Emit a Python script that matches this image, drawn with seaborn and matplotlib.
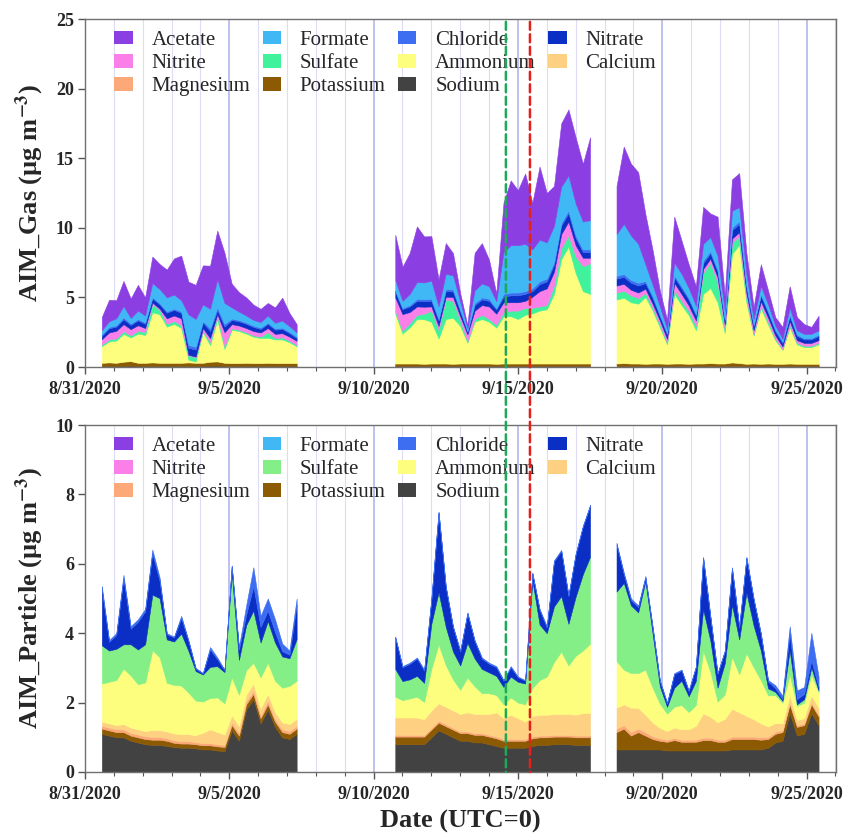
import pandas as pd
import matplotlib
matplotlib.use("Agg")
import matplotlib.pyplot as plt
import matplotlib.dates as mdates
from matplotlib.patches import Patch, ConnectionPatch
from matplotlib.ticker import FuncFormatter, MultipleLocator
import seaborn as sns

seg_starts = ["2020-08-31 14:00", "2020-09-10 18:00", "2020-09-18 10:00"]
seg_points = [28, 28, 29]

date_ticks = ["2020-08-31", "2020-09-05", "2020-09-10", "2020-09-15", "2020-09-20", "2020-09-25"]
event_times = ["2020-09-14 14:00", "2020-09-15 10:00"]
event_colors = ["#1fa857", "#e3211c"]

# ---------------- AIM gas (ug m-3) ----------------
gas_sodium = [.08, .08, .08, .08, .1, .08, .08, .08, .08, .08, .08, .08, .08, .08, .08, .1, .1, .08, .08, .08, .08, .08, .08, .08, .08, .08, .08, .08,
              .08, .08, .08, .08, .08, .08, .08, .08, .08, .08, .08, .08, .08, .08, .08, .08, .08, .08, .08, .08, .08, .08, .08, .08, .08, .08, .08, .08,
              .08, .08, .08, .08, .08, .08, .08, .08, .08, .08, .08, .08, .08, .08, .08, .08, .08, .08, .08, .08, .08, .08, .08, .08, .08, .08, .08, .08, .08]
gas_potassium = [.22, .25, .22, .3, .32, .22, .22, .25, .22, .22, .22, .22, .25, .22, .22, .28, .3, .22, .2, .2, .22, .2, .2, .22, .2, .2, .2, .2,
                 .17, .17, .17, .17, .15, .17, .17, .17, .15, .17, .17, .17, .17, .17, .15, .17, .17, .17, .17, .17, .17, .17, .17, .17, .17, .17, .17, .17,
                 .17, .2, .17, .17, .15, .17, .17, .15, .17, .17, .15, .17, .17, .2, .17, .17, .25, .2, .15, .17, .15, .17, .15, .15, .17, .15, .15, .15, .15]
gas_ammonium = [1.2, 1.5, 1.6, 2.0, 1.7, 2.1, 2.0, 3.6, 3.5, 2.6, 2.8, 2.5, 0.2, 0.1, 2.2, 1.2, 3.0, 1.0, 2.4, 2.3, 2.1, 1.9, 1.8, 1.8, 1.7, 1.7, 1.5, 1.2,
                3.6, 2.15, 2.6, 3.2, 3.2, 3.0, 1.8, 3.2, 3.3, 2.7, 1.5, 3.0, 3.2, 3.0, 2.6, 3.4, 3.4, 3.2, 3.5, 3.6, 3.8, 3.9, 5.0, 7.5, 8.4, 6.5, 5.2, 5.0,
                4.6, 4.7, 4.4, 4.3, 4.8, 3.8, 2.6, 1.4, 5.0, 4.2, 3.5, 2.4, 5.0, 5.4, 4.4, 2.2, 7.8, 8.5, 4.4, 2.0, 4.0, 2.8, 1.7, 1.0, 2.6, 1.4, 1.2, 1.2, 1.4]
gas_sulfate = [.1, .15, .15, .2, .15, .2, .2, .6, .3, .2, .2, .2, .3, .3, .1, .2, .3, .2, .1, .1, .1, .1, .1, .4, .1, .15, .1, .1,
               .2, .2, .3, .3, .4, .8, .6, 1.4, 1.2, .4, .1, .2, .3, .2, .2, .3, .4, .6, .5, .4, .3, .3, .6, .8, .8, 1.2, 1.8, 2.2,
               .5, .5, .5, .4, .3, .2, .2, .1, .3, .3, .3, .3, 1.5, 1.8, 1.4, .2, .8, .6, .3, .1, .2, .2, .1, .05, .15, .1, .1, .1, .1]
gas_nitrite = [.4, .5, .55, .5, .45, .4, .3, .1, .1, .4, .4, .5, .05, .05, .2, .3, .1, 1.0, .3, .3, .3, .3, .3, .3, .3, .3, .3, .3,
               .95, 1.2, .8, .6, .5, .3, .3, .2, .3, .3, .5, .6, .7, .9, .8, .7, .6, .6, .5, .8, 1.1, 1.2, 1.0, 1.0, 1.0, .8, .6, .4,
               .5, .5, .4, .4, .3, .3, .3, .3, .5, .5, .4, .4, .3, .3, .4, .4, .3, .3, .4, .3, .3, .3, .25, .2, .3, .2, .2, .2, .2]
gas_nitrate = [.25, .3, .3, .35, .3, .35, .3, .3, .3, .4, .4, .4, .5, .5, .4, .5, .3, .4, .3, .3, .3, .3, .25, .3, .3, .3, .25, .2,
               .4, .35, .4, .4, .4, .4, .4, .4, .4, .35, .2, .4, .4, .4, .3, .4, .5, .5, .5, .4, .5, .5, .5, .6, .6, .5, .4, .4,
               .5, .5, .5, .5, .4, .4, .3, .3, .4, .4, .4, .35, .4, .4, .4, .3, .6, .6, .4, .3, .4, .35, .3, .25, .35, .3, .25, .25, .3]
gas_chloride = [.1, .1, .1, .15, .1, .1, .1, .1, .1, .1, .1, .1, .2, .2, .1, .2, .2, .2, .1, .1, .1, .1, .1, .1, .1, .1, .1, .1,
                .1, .1, .1, .15, .15, .15, .1, .15, .15, .1, .05, .15, .15, .15, .1, .2, .2, .2, .2, .2, .2, .2, .2, .2, .2, .2, .2, .2,
                .2, .2, .2, .2, .15, .15, .1, .1, .15, .15, .15, .1, .2, .15, .15, .1, .2, .2, .15, .1, .1, .1, .1, .1, .1, .1, .1, .1, .1]
gas_formate = [.3, .4, .5, .8, .4, .6, .5, 1.0, 1.0, 1.0, 1.0, .8, 2.2, 2.0, 1.2, 1.4, 2.0, 1.5, .8, .6, .5, .4, .4, .5, .4, .5, .4, .3,
               .75, .5, .8, 1.2, 1.2, 1.3, .9, 1.1, 1.0, .6, .2, .9, 1.0, .9, .5, 3.0, 3.4, 3.4, 3.4, 2.8, 3.0, 2.6, 2.6, 2.6, 2.5, 2.3, 2.0, 2.1,
               3.0, 3.6, 3.2, 2.8, 1.2, .8, .6, .3, .9, .9, .7, .6, 1.2, 1.0, 1.0, .6, 1.2, 1.0, .8, .4, .6, .5, .3, .2, .5, .3, .3, .3, .3]
gas_acetate = [.95, 1.55, 1.3, 1.8, 1.4, 1.85, 1.3, 1.9, 1.8, 2.0, 2.6, 3.2, 2.35, 2.45, 2.8, 3.1, 3.5, 3.6, 1.7, 1.4, 1.3, 1.1, .95, .9, 1.1, 1.65, .95, .6,
               3.25, 2.45, 2.95, 4.0, 3.3, 3.2, 1.95, 2.2, 1.6, .6, .2, 2.7, 2.9, 1.9, .55, 3.55, 4.65, 3.95, 5.05, 3.35, 5.25, 3.55, 2.85, 4.55, 4.75, 4.75, 4.15, 5.95,
               3.45, 5.55, 5.15, 5.15, 3.6, 2.5, 1.15, .65, 3.3, 2.4, 1.7, 1.4, 2.65, 1.7, 2.8, 1.05, 2.25, 2.45, 1.5, .85, 1.55, 1.0, .6, .85, 1.55, .95, .7, .5, 1.05]

# ---------------- AIM particle (ug m-3) ----------------
pm_sodium = [1.1, 1.05, 1.0, 1.0, .9, .85, .8, .78, .78, .75, .72, .7, .7, .68, .65, .65, .62, .6, 1.2, .9, 1.8, 2.1, 1.4, 1.8, 1.3, 1.0, .95, 1.1,
             .8, .8, .8, .8, .8, 1.0, 1.2, 1.1, 1.0, .9, .9, .85, .85, .8, .75, .7, .7, .7, .7, .75, .78, .78, .8, .8, .8, .78, .78, .78,
             .65, .65, .65, .65, .65, .65, .65, .62, .62, .62, .62, .62, .62, .62, .62, .62, .65, .65, .65, .65, .65, .7, .85, .9, 1.7, 1.05, 1.1, 1.7, 1.35]
pm_potassium = [.15, .15, .15, .15, .15, .15, .15, .15, .15, .15, .12, .12, .12, .12, .12, .12, .12, .12, .15, .15, .15, .15, .15, .15, .15, .15, .15, .15,
                .22, .22, .22, .22, .22, .22, .22, .22, .22, .22, .22, .22, .22, .22, .22, .2, .2, .2, .2, .22, .22, .22, .22, .22, .22, .22, .22, .22,
                .5, .6, .4, .5, .4, .3, .25, .25, .3, .25, .25, .25, .3, .3, .25, .25, .3, .3, .3, .3, .28, .25, .25, .25, .25, .25, .25, .25, .25]
pm_magnesium = [.08, .08, .08, .08, .08, .08, .08, .08, .08, .07, .07, .07, .07, .06, .06, .06, .06, .06, .08, .08, .08, .1, .08, .1, .08, .08, .08, .08,
                .05, .05, .05, .05, .05, .05, .06, .06, .05, .05, .05, .05, .05, .05, .05, .05, .05, .05, .05, .05, .05, .05, .05, .05, .05, .05, .05, .05,
                .1, .1, .1, .1, .1, .08, .07, .06, .06, .06, .06, .06, .07, .07, .06, .06, .07, .07, .07, .07, .07, .06, .06, .05, .06, .05, .05, .06, .05]
pm_calcium = [.12, .12, .12, .15, .15, .15, .15, .2, .2, .2, .2, .2, .2, .2, .3, .4, .35, .3, .2, .2, .2, .2, .2, .2, .2, .2, .2, .2,
              .5, .5, .5, .5, .45, .5, .5, .5, .5, .5, .55, .55, .55, .6, .7, .6, .7, .6, .5, .6, .6, .6, .6, .6, .6, .6, .65, .65,
              .6, .6, .7, .6, .5, .4, .3, .25, .3, .3, .3, .4, .7, .6, .5, .6, .8, .7, .6, .5, .4, .3, .25, .2, .2, .15, .15, .2, .2]
pm_ammonium = [1.1, 1.2, 1.3, 1.6, 1.5, 1.3, 1.4, 2.3, 2.1, 1.4, 1.4, 1.4, 1.2, 1.0, .9, .9, 1.0, .9, 1.1, .9, .7, .6, .9, .9, .9, 1.0, 1.1, 1.1,
               .6, .5, .55, .6, .5, 1.2, 1.7, 1.2, .9, .7, 1.0, .8, .6, .6, .5, .4, .5, .45, .5, .8, 1.0, 1.1, 1.5, 1.8, 1.4, 1.7, 1.8, 2.0,
               1.35, 1.0, 1.0, 1.0, 1.3, 1.0, .7, .5, .6, .7, .5, .6, 1.8, 1.3, .6, .7, 1.5, 1.1, 1.8, 1.5, 1.25, .9, .8, .6, .6, .4, .45, .6, .45]
pm_sulfate = [1.1, .9, .9, .7, .9, 1.0, 1.1, 1.6, 1.7, 1.25, 1.25, 1.5, 1.2, .85, .78, .9, .9, .9, 3.0, 1.0, 1.3, 1.5, 1.0, 1.2, 1.1, .9, .8, 1.2,
              .8, .55, .55, .6, .55, 1.3, 1.5, 1.1, .8, .7, 1.0, .8, .7, .6, .55, .5, .6, .6, .6, 3.1, 1.6, 1.25, 1.6, 1.6, 1.2, 1.7, 2.2, 2.5,
              2.0, 2.5, 1.95, 1.75, 2.55, 1.55, .5, .2, .55, .7, .45, .7, 1.2, .9, .4, .9, 1.5, 1.0, 1.75, 1.2, .85, .2, .1, .05, .7, .05, .1, .2, .05]
pm_nitrate = [1.6, .25, .4, 1.9, .45, .8, .95, 1.2, .5, .15, .12, .45, .28, .07, .03, .5, .2, .05, .2, .3, .3, .7, .45, .3, .3, .15, .1, 1.0,
              .9, .4, .45, .5, .35, .7, 2.3, 1.15, .7, .4, .85, .5, .3, .25, .25, .18, .27, .13, .08, .2, .42, .17, 1.3, 1.3, .8, 1.22, 1.37, 1.47,
              1.35, .25, .15, .15, .1, .17, .15, .1, .39, .3, .15, .4, 1.48, .68, .4, .35, 1.05, .35, 1.0, .75, .47, .2, .1, .05, .5, .15, .15, .2, .1]
pm_chloride = [.1, .05, .05, .1, .07, .07, .07, .1, .1, .03, .02, .06, .03, .02, .01, .07, .05, .02, .02, .07, .27, .55, .32, .35, .37, .22, .12, .17,
               .03, .03, .03, .03, .03, .03, .02, .02, .03, .03, .03, .03, .03, .03, .03, .02, .03, .02, .02, .03, .03, .03, .03, .03, .03, .03, .03, .03,
               .05, .05, .05, .05, .05, .05, .03, .02, .03, .02, .02, .02, .03, .03, .02, .02, .03, .03, .03, .03, .03, .04, .09, .1, .19, .25, .2, .8, .3]

gas = {"Sodium": gas_sodium, "Potassium": gas_potassium, "Ammonium": gas_ammonium,
       "Sulfate": gas_sulfate, "Nitrite": gas_nitrite, "Nitrate": gas_nitrate,
       "Chloride": gas_chloride, "Formate": gas_formate, "Acetate": gas_acetate}
particle = {"Sodium": pm_sodium, "Potassium": pm_potassium, "Magnesium": pm_magnesium,
            "Calcium": pm_calcium, "Ammonium": pm_ammonium, "Sulfate": pm_sulfate,
            "Nitrate": pm_nitrate, "Chloride": pm_chloride}

stack_order = ["Sodium", "Potassium", "Magnesium", "Calcium", "Ammonium", "Sulfate",
               "Nitrite", "Nitrate", "Chloride", "Formate", "Acetate"]
legend_order = ["Acetate", "Nitrite", "Magnesium", "Formate", "Sulfate", "Potassium",
                "Chloride", "Ammonium", "Sodium", "Nitrate", "Calcium"]

base_colors = {"Acetate": "#8b3fe3", "Formate": "#3fb8f5", "Chloride": "#3d6ef2",
               "Nitrate": "#0b2ec4", "Nitrite": "#fa7fe8", "Sulfate": "#40f29c",
               "Ammonium": "#fdfd7e", "Calcium": "#fdd082", "Magnesium": "#fca878",
               "Potassium": "#8c5a02", "Sodium": "#424242"}
gas_colors = dict(base_colors)
pm_colors = dict(base_colors, Sulfate="#84ef86")

sns.set_style("ticks")
plt.rcParams["font.family"] = ["Liberation Serif", "DejaVu Serif"]
plt.rcParams["font.weight"] = "bold"
plt.rcParams["axes.labelweight"] = "bold"
plt.rcParams["mathtext.fontset"] = "stix"

times = [pd.date_range(s, periods=n, freq="6h") for s, n in zip(seg_starts, seg_points)]

fig = plt.figure(figsize=(8.43, 8.36), dpi=100)
ax1 = fig.add_axes([85 / 843, 1 - 367 / 836, 751 / 843, 348 / 836])
ax2 = fig.add_axes([85 / 843, 1 - 772 / 836, 751 / 843, 347 / 836])


def draw_panel(ax, layers, pal, ymax, ystep, ylabel):
    names = [n for n in stack_order if n in layers]
    i0 = 0
    for t in times:
        n = len(t)
        ax.stackplot(t, *[layers[k][i0:i0 + n] for k in names],
                     colors=[pal[k] for k in names], linewidth=0.4, edgecolor="face")
        i0 += n

    ax.set_xlim(pd.Timestamp("2020-08-31"), pd.Timestamp("2020-09-26 00:30"))
    ax.set_ylim(0, ymax)
    ax.xaxis.set_major_locator(matplotlib.ticker.FixedLocator(
        [mdates.date2num(pd.Timestamp(d)) for d in date_ticks]))
    ax.xaxis.set_minor_locator(mdates.DayLocator())
    ax.xaxis.set_major_formatter(FuncFormatter(
        lambda x, p: "{0.month}/{0.day}/{0.year}".format(mdates.num2date(x))))
    ax.yaxis.set_major_locator(MultipleLocator(ystep))
    ax.grid(which="minor", axis="x", color="#dcdcf4", lw=0.8)
    ax.grid(which="major", axis="x", color="#b3b5ec", lw=1.2)
    ax.set_axisbelow(True)
    ax.tick_params(which="major", direction="out", length=5, width=1, color="#555555",
                   labelsize=13, pad=3)
    ax.tick_params(axis="x", which="major", pad=5)
    ax.tick_params(which="minor", direction="out", length=3, width=0.8, color="#555555")
    for s in ax.spines.values():
        s.set_color("#707070")
        s.set_linewidth(1)
    ax.set_ylabel(ylabel, fontsize=19)
    ax.yaxis.set_label_coords(-0.052, 0.5)

    handles = [Patch(facecolor=pal[k], edgecolor="none", label=k) for k in legend_order]
    ax.legend(handles=handles, ncol=4, loc="upper left", bbox_to_anchor=(0.028, 0.99),
              frameon=False, prop={"size": 15, "weight": "normal"},
              handlelength=0.88, handleheight=0.62, handletextpad=0.9,
              columnspacing=0.6, labelspacing=0.2, borderaxespad=0)


draw_panel(ax1, gas, gas_colors, 25, 5, "AIM_Gas (µg m$^{-3}$)")
draw_panel(ax2, particle, pm_colors, 10, 2, "AIM_Particle (µg m$^{-3}$)")
ax2.set_xlabel("Date (UTC=0)", fontsize=19, labelpad=5)

# event markers spanning both panels
for t, c in zip(event_times, event_colors):
    xn = mdates.date2num(pd.Timestamp(t))
    con = ConnectionPatch(xyA=(xn, 24.8), coordsA=ax1.transData,
                          xyB=(xn, 0), coordsB=ax2.transData,
                          color=c, lw=1.8, linestyle=(0, (3.2, 1.8)))
    fig.add_artist(con)

fig.savefig("out.png", dpi=100)
